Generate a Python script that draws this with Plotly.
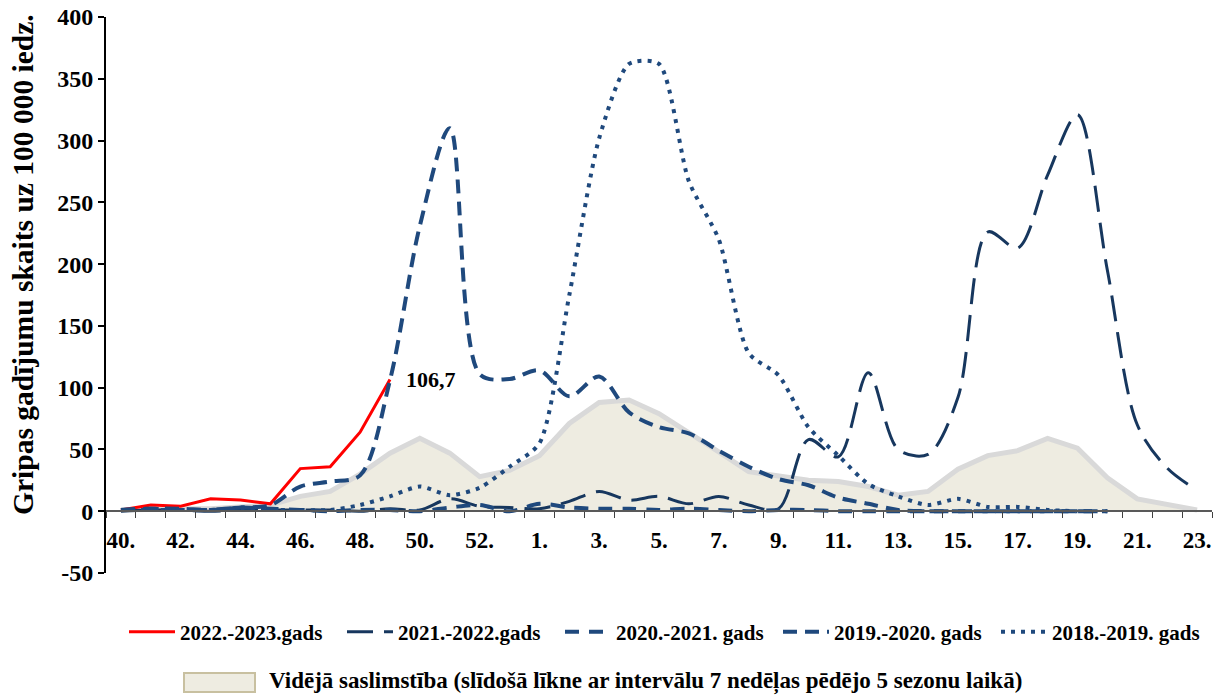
import plotly.graph_objects as go

# ---- data ----
weeks = ["40.", "41.", "42.", "43.", "44.", "45.", "46.", "47.", "48.", "49.", "50.", "51.", "52.", "53.",
         "1.", "2.", "3.", "4.", "5.", "6.", "7.", "8.", "9.", "10.", "11.", "12.", "13.", "14.", "15.",
         "16.", "17.", "18.", "19.", "20.", "21.", "22.", "23."]

s_2022_2023 = [1, 5, 4, 10, 9, 6, 34.5, 36, 64, 106.7]

s_2021_2022 = [0, 1, 1, 0, 1, 1, 1, 1, 0, 2, 1, 10, 4, 3,
               2, 8, 16, 9, 12, 6, 12, 5, 2, 58, 44, 112, 50, 46, 92,
               226, 213, 272, 321, 195, 70, 35, 17]

s_2020_2021 = [1, 2, 1, 1, 3, 2, 1, 0, 1, 1, 0, 3, 5, 0,
               6, 3, 2, 2, 1, 2, 1, 0, 1, 1, 0, 0, 0, 0, 0,
               0, 0, 0, 0, 0]

s_2019_2020 = [1, 2, 2, 1, 3, 5, 20, 24, 29, 106, 231, 310, 111, 107,
               114, 93, 109, 80, 68, 63, 49, 36, 26, 21, 11, 6, 1, 0, 0,
               0, 0, 0, 0, 0]

s_2018_2019 = [1, 1, 1, 1, 2, 1, 1, 1, 5, 12, 20, 13, 19, 36,
               55, 175, 302, 362, 362, 267, 220, 128, 110, 68, 45, 22, 12, 5, 10,
               3.5, 3.5, 1, 0]

avg_5_seasons = [1, 2, 2, 2, 3, 5, 12, 16, 30, 47, 59, 47, 28, 33,
                 45, 71, 88, 90, 79, 64, 48, 32, 28, 25, 24, 20, 13, 16, 34,
                 45, 49, 59, 51, 27, 10, 5, 1]

y_ticks = [-50, 0, 50, 100, 150, 200, 250, 300, 350, 400]

names = ["2022.-2023.gads", "2021.-2022.gads", "2020.-2021. gads", "2019.-2020. gads", "2018.-2019. gads"]
avg_name = "Vidējā saslimstība (slīdošā līkne ar intervālu 7 nedēļas pēdējo 5 sezonu laikā)"
y_title = "Gripas gadījumu skaits uz 100 000 iedz."

# ---- styling / layout ----
FONT = "Liberation Serif, Times New Roman, serif"
NAVY = "#1F497D"
DARK = "#17375E"
AVG_FILL = "#EEECE1"
AVG_LINE = "#D9D9D9"

W, H = 1225, 697
P_LEFT, P_RIGHT, P_TOP, P_BOTTOM = 106, 1212, 17, 573   # plot area in screen pixels
ML, MR, MT, MB = P_LEFT, W - P_RIGHT, P_TOP, H - P_BOTTOM
PW, PH = P_RIGHT - P_LEFT, P_BOTTOM - P_TOP


def px_x(p):
    return (p - P_LEFT) / PW


def px_y(p):
    return (P_BOTTOM - p) / PH


def xs(series):
    return list(range(len(series)))


fig = go.Figure()

fig.add_trace(go.Scatter(
    x=xs(avg_5_seasons), y=avg_5_seasons, name=avg_name, mode="lines",
    fill="tozeroy", fillcolor=AVG_FILL, line=dict(color=AVG_LINE, width=5),
    showlegend=False))

fig.add_trace(go.Scatter(
    x=xs(s_2022_2023), y=s_2022_2023, name=names[0], mode="lines",
    line=dict(color="#FF0000", width=3)))

fig.add_trace(go.Scatter(
    x=xs(s_2021_2022), y=s_2021_2022, name=names[1], mode="lines",
    line=dict(color=DARK, width=3, dash="26px,11px", shape="spline", smoothing=0.9)))

fig.add_trace(go.Scatter(
    x=xs(s_2020_2021), y=s_2020_2021, name=names[2], mode="lines",
    line=dict(color=NAVY, width=4, dash="14px,10px", shape="spline", smoothing=0.9)))

fig.add_trace(go.Scatter(
    x=xs(s_2019_2020), y=s_2019_2020, name=names[3], mode="lines",
    line=dict(color=NAVY, width=4, dash="14px,8px", shape="spline", smoothing=0.9)))

fig.add_trace(go.Scatter(
    x=xs(s_2018_2019), y=s_2018_2019, name=names[4], mode="lines",
    line=dict(color=NAVY, width=4, dash="4px,6px", shape="spline", smoothing=0.7)))

# last value label of current season
last_i = len(s_2022_2023) - 1
fig.add_annotation(
    x=last_i, y=s_2022_2023[last_i], xref="x", yref="y",
    text=f"{s_2022_2023[last_i]:.1f}".replace(".", ","), showarrow=False,
    xanchor="left", yanchor="middle", xshift=14, yshift=0,
    font=dict(family=FONT, size=22, color="black", weight="bold"))

# y-axis title as rotated annotation
fig.add_annotation(
    x=px_x(23), y=px_y(265), xref="paper", yref="paper", text=y_title, showarrow=False,
    textangle=-90, xanchor="center", yanchor="middle",
    font=dict(family=FONT, size=29.5, color="black", weight="bold"))

# second legend row: average area (box + text)
fig.add_shape(type="rect", xref="paper", yref="paper",
              x0=px_x(184), x1=px_x(255), y0=px_y(692), y1=px_y(673),
              fillcolor=AVG_FILL, line=dict(color="#C8C0A0", width=2))
fig.add_annotation(
    x=px_x(267), y=px_y(682), xref="paper", yref="paper", text=avg_name, showarrow=False,
    xanchor="left", yanchor="middle",
    font=dict(family=FONT, size=23, color="black", weight="bold"))

n = len(weeks)
fig.update_layout(
    width=W, height=H,
    margin=dict(l=ML, r=MR, t=MT, b=MB, autoexpand=False),
    paper_bgcolor="white", plot_bgcolor="white",
    showlegend=True,
    xaxis=dict(
        range=[-0.5, n - 0.5], anchor="free", position=50 / 450,
        tickmode="array", tickvals=list(range(0, n, 2)), ticktext=weeks[::2],
        ticks="", showline=True, linecolor="#595959", linewidth=1.5,
        showgrid=False, zeroline=False, ticklabelstandoff=8, ticklabeloverflow="allow",
        tickfont=dict(family=FONT, size=23, color="black", weight="bold"),
        minor=dict(tickmode="array", tickvals=[i - 0.5 for i in range(n + 1)],
                   ticks="outside", ticklen=6, tickcolor="#404040", tickwidth=1, showgrid=False),
    ),
    yaxis=dict(
        range=[-50, 400], tickmode="array", tickvals=y_ticks, ticktext=[str(v) for v in y_ticks],
        ticks="outside", ticklen=6, tickcolor="black", tickwidth=1.5, ticklabeloverflow="allow",
        showline=True, linecolor="black", linewidth=2, showgrid=False, zeroline=False,
        tickfont=dict(family=FONT, size=24, color="black", weight="bold"),
    ),
    legend=dict(
        orientation="h", x=px_x(124), xanchor="left", y=px_y(632), yanchor="middle",
        font=dict(family=FONT, size=21, color="black", weight="bold"),
        bgcolor="rgba(0,0,0,0)", itemwidth=46, traceorder="normal",
        entrywidth=157, entrywidthmode="pixels"),
)

fig.write_html("out.html", config={"displayModeBar": False},
               post_script="document.body.style.margin='0px';")
